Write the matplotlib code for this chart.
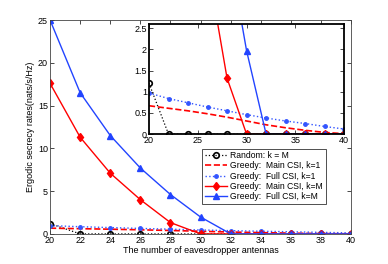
import matplotlib.pyplot as plt

plt.rcParams['font.family'] = ['Liberation Sans', 'DejaVu Sans']

antennas = [20, 22, 24, 26, 28, 30, 32, 34, 36, 38, 40]
random_kM = [1.2, 0, 0, 0, 0, 0, 0, 0, 0, 0, 0]
main_k1 = [0.67, 0.61, 0.55, 0.48, 0.40, 0.31, 0.22, 0.15, 0.09, 0.04, 0.01]
full_k1 = [0.97, 0.84, 0.74, 0.64, 0.55, 0.46, 0.38, 0.31, 0.25, 0.18, 0.12]
main_kM = [17.6, 11.3, 7.1, 4.0, 1.32, 0, 0, 0, 0, 0, 0]
full_kM = [25.0, 16.5, 11.5, 7.7, 4.6, 1.97, 0, 0, 0, 0, 0]

labels = ["Random: k = M", "Greedy:  Main CSI, k=1", "Greedy:  Full CSI, k=1",
          "Greedy:  Main CSI, k=M", "Greedy:  Full CSI, k=M"]


def draw(ax):
    ax.plot(antennas, random_kM, ':', color='k', marker='o', mfc='none', ms=4, mew=1.2, lw=0.9, label=labels[0])
    ax.plot(antennas, main_k1, '--', color='red', lw=1.2, label=labels[1])
    ax.plot(antennas, full_k1, ':', color='#3355ff', marker='.', ms=5, lw=1.0, label=labels[2])
    ax.plot(antennas, main_kM, '-', color='red', marker='d', ms=4.5, lw=1.0, label=labels[3])
    ax.plot(antennas, full_kM, '-', color='#2244ff', marker='^', ms=5, lw=1.0, label=labels[4])


fig = plt.figure(figsize=(3.88, 2.64), dpi=100)
ax = fig.add_axes([0.129, 0.114, 0.776, 0.81])
draw(ax)
ax.set_xlim(20, 40)
ax.set_ylim(0, 25)
ax.set_xticks(range(20, 41, 2))
ax.set_yticks(range(0, 26, 5))
ax.tick_params(direction='in', top=True, right=True, labelsize=6.5, length=3, width=0.5, pad=1.5)
for s in ax.spines.values():
    s.set_linewidth(0.6)
    s.set_color('#444444')
ax.set_xlabel("The number of eavesdropper antennas", fontsize=6.5, labelpad=1)
ax.set_ylabel("Ergodic secrecy rates(nats/s/Hz)", fontsize=6.5, labelpad=2)
leg = ax.legend(loc='lower right', bbox_to_anchor=(0.93, 0.12), fontsize=6.2, fancybox=False,
                edgecolor='#333333', framealpha=1, handlelength=2.6, borderpad=0.3, labelspacing=0.15,
                handletextpad=0.4)
leg.get_frame().set_linewidth(0.6)

ins = fig.add_axes([0.384, 0.492, 0.503, 0.417])
draw(ins)
ins.set_xlim(20, 40)
ins.set_ylim(0, 2.6)
ins.set_xticks([20, 25, 30, 35, 40])
ins.set_yticks([0, 0.5, 1, 1.5, 2, 2.5])
ins.set_yticklabels(['0', '0.5', '1', '1.5', '2', '2.5'])
ins.tick_params(direction='in', top=True, right=True, labelsize=6.5, length=3, width=0.5, pad=1.5)
for s in ins.spines.values():
    s.set_linewidth(1.3)

fig.savefig("out.png", dpi=100)
